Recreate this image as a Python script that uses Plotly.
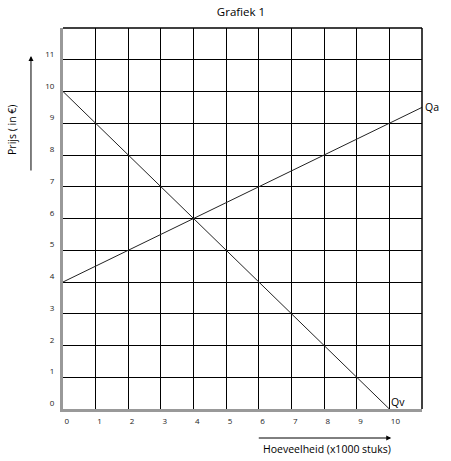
import plotly.graph_objects as go

# Data
qv_x = [0, 10]
qv_y = [10, 0]
qa_x = [0, 11]
qa_y = [4, 9.5]
x_ticks = list(range(0, 11))
y_ticks = list(range(0, 12))
title = "Grafiek 1"
x_title = "Hoeveelheid (x1000 stuks)"
y_title = "Prijs ( in €)"

FONT = "Open Sans"
L, T, PW, PH = 63, 28, 358.7, 381.0


def px(x):
    return (x - L) / PW


def py(y):
    return (T + PH - y) / PH


fig = go.Figure()
fig.add_trace(go.Scatter(x=qv_x, y=qv_y, mode="lines",
                         line=dict(color="#222222", width=1), showlegend=False, cliponaxis=False))
fig.add_trace(go.Scatter(x=qa_x, y=qa_y, mode="lines",
                         line=dict(color="#222222", width=1), showlegend=False, cliponaxis=False))

fig.add_annotation(x=qa_x[-1], y=qa_y[-1], text="Qa", xanchor="left", yanchor="middle",
                   showarrow=False, xshift=1, font=dict(family=FONT, size=10.5, color="black"))
fig.add_annotation(x=qv_x[-1], y=qv_y[-1], text="Qv", xanchor="left", yanchor="bottom",
                   showarrow=False, xshift=0, yshift=-2, font=dict(family=FONT, size=10.5, color="black"))

# top/right borders
fig.add_shape(type="line", xref="paper", yref="paper", x0=0, x1=1, y0=1, y1=1,
              line=dict(color="black", width=1.5))
fig.add_shape(type="line", xref="paper", yref="paper", x0=1, x1=1, y0=0, y1=1,
              line=dict(color="black", width=1.5))

# axis title arrows
fig.add_annotation(xref="paper", yref="paper", x=px(391), y=py(438),
                   ax=-134, ay=0, text="",
                   showarrow=True, arrowhead=2, arrowsize=1, arrowwidth=1, arrowcolor="black")
fig.add_annotation(xref="paper", yref="paper", x=px(31), y=py(56),
                   ax=0, ay=116, text="",
                   showarrow=True, arrowhead=2, arrowsize=1, arrowwidth=1, arrowcolor="black")

fig.add_annotation(xref="paper", yref="paper", x=px(327), y=py(449),
                   text=x_title, showarrow=False, xanchor="center", yanchor="middle",
                   font=dict(family=FONT, size=10.5, color="black"))
fig.add_annotation(xref="paper", yref="paper", x=px(12), y=py(130),
                   text=y_title, showarrow=False, textangle=-90, xanchor="center", yanchor="middle",
                   font=dict(family=FONT, size=10.5, color="black"))

fig.update_layout(
    width=451, height=461,
    margin=dict(l=63, r=29, t=28, b=52),
    paper_bgcolor="white", plot_bgcolor="white",
    title=dict(text=title, x=241 / 451, xanchor="center", y=1 - 12 / 461, yanchor="middle",
               font=dict(family=FONT, size=11.5, color="black")),
    xaxis=dict(range=[0, 11], tickmode="array", tickvals=x_ticks, ticktext=[str(v) for v in x_ticks],
               showgrid=True, gridcolor="black", gridwidth=1.3, zeroline=False,
               showline=True, linecolor="#999999", linewidth=3,
               ticks="", ticklabelposition="outside right", ticklabelstandoff=2,
               tickfont=dict(family=FONT, size=8, color="#222222"), fixedrange=True),
    yaxis=dict(range=[0, 12], tickmode="array", tickvals=y_ticks, ticktext=[str(v) for v in y_ticks],
               showgrid=True, gridcolor="black", gridwidth=1.3, zeroline=False,
               showline=True, linecolor="#999999", linewidth=3,
               ticks="", ticklabelposition="outside top", ticklabelstandoff=4,
               tickfont=dict(family=FONT, size=8, color="#222222"), fixedrange=True),
)

fig.write_html("out.html")
